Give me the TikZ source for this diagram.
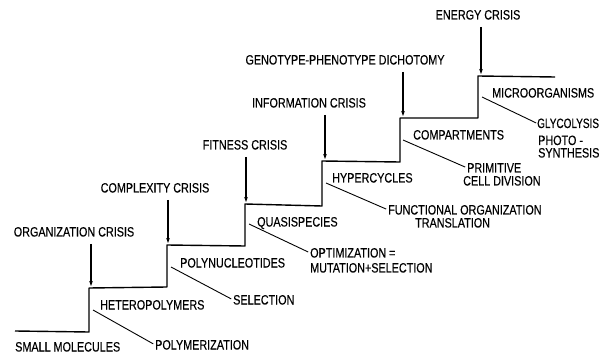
\documentclass[tikz,border=0pt]{standalone}
\usepackage{fontspec}
\setmainfont[FakeStretch=0.8,FakeBold=0.3]{Liberation Sans}
\newfontfamily\narrowfont[FakeStretch=0.74,FakeBold=0.3]{Liberation Sans}
\usetikzlibrary{arrows.meta}
\begin{document}
\begin{tikzpicture}[x=1pt,y=-1pt,
  lbl/.style={inner sep=0pt, font=\fontsize{13.5}{14}\selectfont},
  stair/.style={line width=1.4pt, line join=round},
  crisis/.style={line width=1.1pt, shorten <=7pt, -{Stealth[length=5pt,width=3.6pt]}},
  proc/.style={line width=0.9pt}]
\useasboundingbox (0,0) rectangle (605,358);
% staircase
\coordinate (s0) at (15,331);
\coordinate (r1b) at (89,332); \coordinate (r1t) at (89,288);
\coordinate (r2b) at (167,287); \coordinate (r2t) at (167,245);
\coordinate (r3b) at (245,246); \coordinate (r3t) at (245,204);
\coordinate (r4b) at (322,206); \coordinate (r4t) at (322,161);
\coordinate (r5b) at (400,162); \coordinate (r5t) at (400,118);
\coordinate (r6b) at (478,118); \coordinate (r6t) at (478,76);
\coordinate (s7) at (555,77);
\draw[stair] (s0) -- (r1b) -- (r1t) -- (r2b) -- (r2t) -- (r3b) -- (r3t) -- (r4b) -- (r4t) -- (r5b) -- (r5t) -- (r6b) -- (r6t) -- (s7);
% crisis labels
\node[lbl, anchor=base] (c1) at (74,236.5) {ORGANIZATION CRISIS};
\node[lbl, anchor=base] (c2) at (155,192.5) {COMPLEXITY CRISIS};
\node[lbl, anchor=base] (c3) at (245,149.5) {FITNESS CRISIS};
\node[lbl, anchor=base] (c4) at (309,107.5) {INFORMATION CRISIS};
\node[lbl, anchor=base] (c5) at (345,64.5) {GENOTYPE-PHENOTYPE DICHOTOMY};
\node[lbl, anchor=base] (c6) at (478,19.5) {ENERGY CRISIS};
\coordinate (a1) at (91,286);
\coordinate (a2) at (168,243);
\coordinate (a3) at (246,202);
\coordinate (a4) at (325,159);
\coordinate (a5) at (403,116);
\coordinate (a6) at (481,74);
\draw[crisis] (c1.south -| a1) -- (a1);
\draw[crisis] (c2.south -| a2) -- (a2);
\draw[crisis] (c3.south -| a3) -- (a3);
\draw[crisis] (c4.south -| a4) -- (a4);
\draw[crisis] (c5.south -| a5) -- (a5);
\draw[crisis] (c6.south -| a6) -- (a6);
% step labels
\node[lbl, anchor=base west] (l0) at (15,351.5) {SMALL MOLECULES};
\node[lbl, anchor=base west] (l1) at (100,309.5) {HETEROPOLYMERS};
\node[lbl, anchor=base west] (l2) at (180,267.5) {POLYNUCLEOTIDES};
\node[lbl, anchor=base west] (l3) at (257,226.5) {QUASISPECIES};
\node[lbl, anchor=base west] (l4) at (332,182.5) {HYPERCYCLES};
\node[lbl, anchor=base west] (l5) at (413,139.5) {COMPARTMENTS};
\node[lbl, anchor=base west] (l6) at (492,97.5) {MICROORGANISMS};
% process labels
\node[lbl, anchor=base west] (p1) at (155,349.5) {POLYMERIZATION};
\node[lbl, anchor=base west] (p2) at (233,304.5) {SELECTION};
\node[lbl, anchor=base west] (p3) at (310,257.5) {OPTIMIZATION =};
\node[lbl, anchor=base west] (p3b) at (310,272.5) {MUTATION+SELECTION};
\node[lbl, anchor=base west] (p4) at (388,214.5) {FUNCTIONAL ORGANIZATION};
\node[lbl, anchor=base west] (p4b) at (415,227.5) {TRANSLATION};
\node[lbl, anchor=base west] (p5) at (467,172.5) {PRIMITIVE};
\node[lbl, anchor=base west] (p5b) at (463,185.5) {CELL DIVISION};
\node[lbl, anchor=base west, font=\narrowfont\fontsize{13.5}{14}\selectfont] (p6) at (537,128) {GLYCOLYSIS};
\node[lbl, anchor=base west] (p6b) at (538,145) {PHOTO -};
\node[lbl, anchor=base west] (p6c) at (538,157.5) {SYNTHESIS};
\coordinate (q1) at (93,310);
\coordinate (q2) at (171,267);
\coordinate (q3) at (249,224);
\coordinate (q4) at (326,183);
\coordinate (q5) at (403,140);
\coordinate (q6) at (482,97);
\draw[proc, shorten >=2pt] (q1) -- (p1.west);
\draw[proc, shorten >=2pt] (q2) -- (p2.west);
\draw[proc, shorten >=2pt] (q3) -- (p3.west);
\draw[proc, shorten >=2pt] (q4) -- (p4.west);
\draw[proc, shorten >=2pt] (q5) -- (p5.west);
\draw[proc, shorten >=1pt] (q6) -- (p6.west);
\end{tikzpicture}
\end{document}
